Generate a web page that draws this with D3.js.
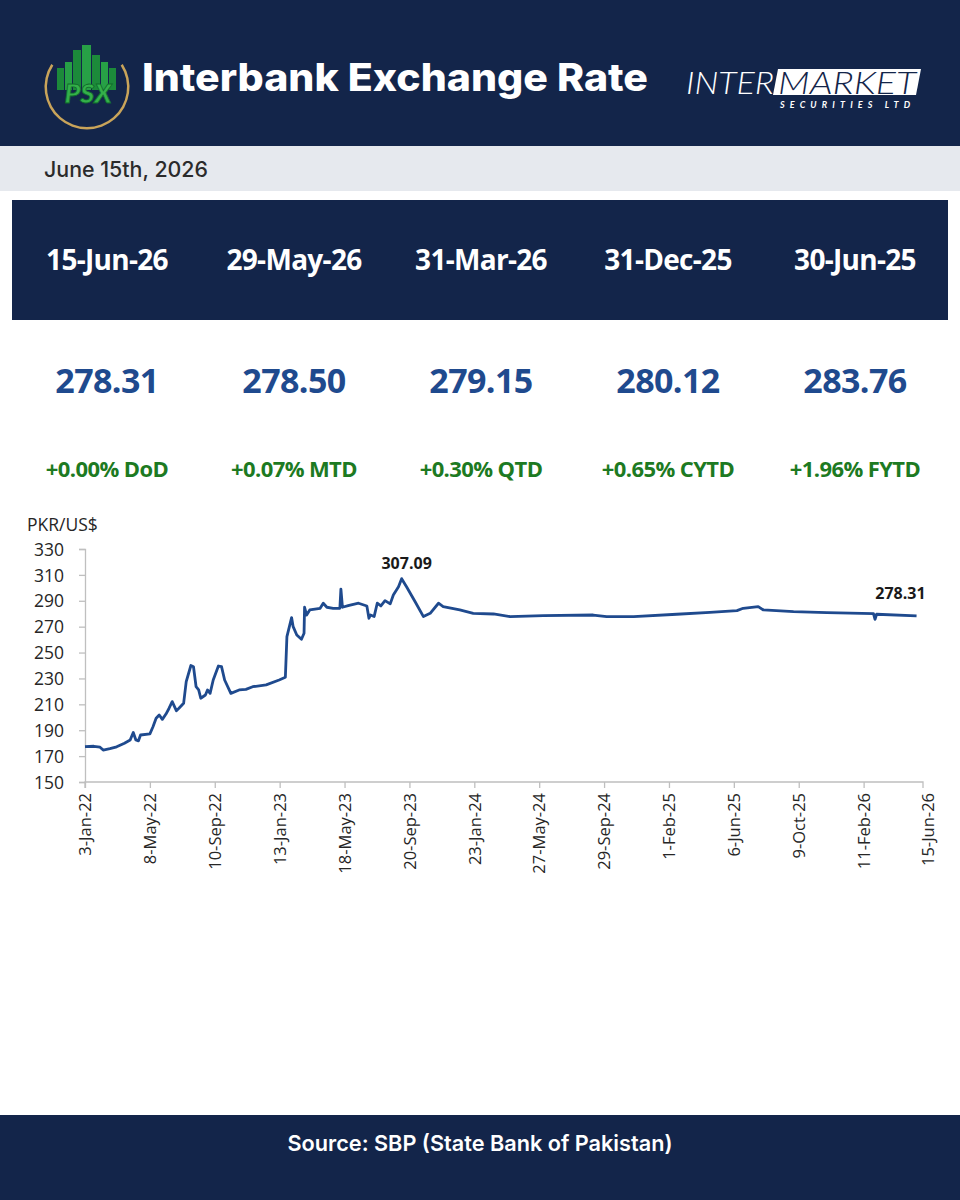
<!DOCTYPE html>
<html>
<head>
<meta charset="utf-8">
<script src="https://cdn.jsdelivr.net/npm/d3@7"></script>
<style>
  body { margin: 0; background: #fff; }
  svg { display: block; }
</style>
</head>
<body>
<svg id="chart"></svg>
<script>
// snapshot cards
const cardDates = ['15-Jun-26', '29-May-26', '31-Mar-26', '31-Dec-25', '30-Jun-25'];
const cardRates = ['278.31', '278.50', '279.15', '280.12', '283.76'];
const cardChanges = ['+0.00% DoD', '+0.07% MTD', '+0.30% QTD', '+0.65% CYTD', '+1.96% FYTD'];

// PKR/US$ series
const rateDates = [
  '2022-01-03', '2022-01-20', '2022-02-01', '2022-02-07', '2022-02-20', '2022-03-05', '2022-03-20', '2022-03-31',
  '2022-04-06', '2022-04-11', '2022-04-16', '2022-04-20', '2022-05-08', '2022-05-14', '2022-05-20', '2022-05-26',
  '2022-06-01', '2022-06-08', '2022-06-14', '2022-06-20', '2022-06-28', '2022-07-03', '2022-07-12', '2022-07-17',
  '2022-07-26', '2022-07-31', '2022-08-05', '2022-08-10', '2022-08-14', '2022-08-23', '2022-08-27', '2022-09-01',
  '2022-09-07', '2022-09-17', '2022-09-23', '2022-09-29', '2022-10-11', '2022-10-27', '2022-11-09', '2022-11-22',
  '2022-12-18', '2023-01-12', '2023-01-24', '2023-01-27', '2023-02-05', '2023-02-08', '2023-02-15', '2023-02-24',
  '2023-03-01', '2023-03-02', '2023-03-06', '2023-03-12', '2023-04-01', '2023-04-07', '2023-04-14', '2023-04-26',
  '2023-05-09', '2023-05-11', '2023-05-14', '2023-05-25', '2023-06-14', '2023-06-30', '2023-07-04', '2023-07-07',
  '2023-07-14', '2023-07-20', '2023-07-27', '2023-08-04', '2023-08-14', '2023-08-20', '2023-08-30', '2023-09-05',
  '2023-09-15', '2023-10-01', '2023-10-17', '2023-10-30', '2023-11-15', '2023-11-24', '2023-12-26', '2024-01-21',
  '2024-02-29', '2024-04-01', '2024-06-04', '2024-09-08', '2024-10-04', '2024-11-25', '2025-02-16', '2025-04-21',
  '2025-06-12', '2025-06-24', '2025-07-23', '2025-08-02', '2025-09-29', '2025-12-02', '2026-03-02', '2026-03-05',
  '2026-03-08', '2026-05-24'
];
const rateValues = [
  177.3, 177.6, 176.9, 174.7, 175.8, 177.2, 180.0, 182.4,
  188.3, 182.5, 181.8, 186.3, 187.2, 192.7, 199.2, 201.8,
  198.4, 202.5, 207.0, 212.1, 205.1, 207.0, 210.8, 227.5,
  240.0, 239.1, 223.6, 221.1, 214.7, 217.2, 221.1, 218.5,
  228.8, 239.6, 239.1, 228.8, 218.5, 221.1, 221.6, 223.6,
  225.0, 228.8, 230.9, 262.3, 277.0, 270.0, 263.6, 260.3,
  264.9, 285.0, 279.0, 282.9, 284.2, 288.1, 285.0, 284.2,
  284.2, 299.0, 285.0, 286.2, 288.1, 286.0, 276.5, 279.0,
  277.8, 288.1, 286.0, 290.1, 287.6, 294.5, 300.9, 307.09,
  300.4, 289.3, 277.8, 280.3, 288.1, 285.5, 282.9, 280.3,
  279.8, 277.8, 278.5, 279.0, 277.8, 277.8, 279.6, 281.1,
  282.4, 284.2, 285.5, 282.9, 281.6, 280.8, 280.1, 275.7,
  279.6, 278.31
];

const xTickDates = ['2022-01-03', '2022-05-08', '2022-09-10', '2023-01-13', '2023-05-18', '2023-09-20',
  '2024-01-23', '2024-05-27', '2024-09-29', '2025-02-01', '2025-06-06', '2025-10-09', '2026-02-11', '2026-06-15'];
const yTicks = [150, 170, 190, 210, 230, 250, 270, 290, 310, 330];

const NAVY = '#13254a';
const parse = d3.timeParse('%Y-%m-%d');
const fmtTick = d => `${d.getDate()}-${d3.timeFormat('%b-%y')(d)}`;

const W = 960, H = 1200;
const svg = d3.select('#chart').attr('width', W).attr('height', H);

// ---- header ----
svg.append('rect').attr('x', 0).attr('y', 0).attr('width', W).attr('height', 146).attr('fill', NAVY);

// PSX mark
const logo = svg.append('g').attr('transform', 'translate(87,87)');
logo.append('path')
  .attr('d', d3.arc()({ innerRadius: 40, outerRadius: 42.5, startAngle: 1.0, endAngle: 2 * Math.PI - 1.0 }))
  .attr('fill', '#c9a45a');
const bars = [[-30, -19, 7], [-22, -25, 7], [-14, -37, 8], [-5, -42, 9], [5, -32, 8], [14, -25, 7], [22, -19, 7]];
bars.forEach(([bx, top, w], i) => {
  logo.append('rect').attr('x', bx).attr('y', top).attr('width', w).attr('height', 3 - top)
    .attr('fill', i % 2 ? '#27a046' : '#1c8a3a');
});
logo.append('text').attr('x', 1).attr('y', 16).attr('text-anchor', 'middle')
  .attr('font-family', 'Lato, sans-serif').attr('font-weight', 900).attr('font-style', 'italic')
  .attr('font-size', 27).attr('fill', '#34b04a').attr('stroke', '#0f6b2a').attr('stroke-width', 0.8)
  .text('PSX');

svg.append('text').attr('x', 142).attr('y', 91)
  .attr('font-family', 'Inter, sans-serif').attr('font-weight', 800).attr('font-size', 38)
  .attr('textLength', 506).attr('lengthAdjust', 'spacingAndGlyphs')
  .attr('fill', '#fff').text('Interbank Exchange Rate');

// Intermarket mark
const im = svg.append('g');
im.append('path').attr('d', 'M778,69 L921,69 L916,95 L773,95 Z').attr('fill', '#fff');
im.append('text').attr('x', 686).attr('y', 94)
  .attr('font-family', 'Lato, sans-serif').attr('font-weight', 300).attr('font-style', 'italic')
  .attr('font-size', 32).attr('textLength', 88).attr('lengthAdjust', 'spacingAndGlyphs')
  .attr('fill', '#fff').text('INTER');
im.append('text').attr('x', 778).attr('y', 94)
  .attr('font-family', 'Lato, sans-serif').attr('font-weight', 300).attr('font-style', 'italic')
  .attr('font-size', 32).attr('textLength', 138).attr('lengthAdjust', 'spacingAndGlyphs')
  .attr('fill', NAVY).text('MARKET');
im.append('text').attr('x', 780).attr('y', 108)
  .attr('font-family', 'Lato, sans-serif').attr('font-weight', 700).attr('font-style', 'italic')
  .attr('font-size', 9).attr('textLength', 130).attr('lengthAdjust', 'spacing')
  .attr('fill', '#fff').text('SECURITIES LTD');

// date band
svg.append('rect').attr('x', 0).attr('y', 146).attr('width', W).attr('height', 45).attr('fill', '#e6e9ee');
svg.append('text').attr('x', 44).attr('y', 177)
  .attr('font-family', 'Inter, sans-serif').attr('font-weight', 500).attr('font-size', 21)
  .attr('textLength', 164).attr('lengthAdjust', 'spacingAndGlyphs')
  .attr('fill', '#2b2b2b').text('June 15th, 2026');

// ---- snapshot cards ----
svg.append('rect').attr('x', 12).attr('y', 200).attr('width', 936).attr('height', 120).attr('fill', NAVY);
const colX = d3.scalePoint().domain(d3.range(cardDates.length)).range([107, 855]);
const cardFont = '"Open Sans", "Noto Sans", sans-serif';

svg.append('g').selectAll('text').data(cardDates).join('text')
  .attr('x', (d, i) => colX(i)).attr('y', 270).attr('text-anchor', 'middle')
  .attr('font-family', cardFont).attr('font-weight', 700).attr('font-size', 28)
  .attr('letter-spacing', -0.7).attr('fill', '#fff').text(d => d);

svg.append('g').selectAll('text').data(cardRates).join('text')
  .attr('x', (d, i) => colX(i)).attr('y', 393).attr('text-anchor', 'middle')
  .attr('font-family', cardFont).attr('font-weight', 700).attr('font-size', 34)
  .attr('letter-spacing', -0.6).attr('fill', '#1f4a8e').text(d => d);

svg.append('g').selectAll('text').data(cardChanges).join('text')
  .attr('x', (d, i) => colX(i)).attr('y', 477).attr('text-anchor', 'middle')
  .attr('font-family', cardFont).attr('font-weight', 700).attr('font-size', 22)
  .attr('letter-spacing', -0.6).attr('fill', '#1d7a22').text(d => d);

// ---- line chart ----
const series = rateDates.map((d, i) => ({ date: parse(d), value: rateValues[i] }));
const ticks = xTickDates.map(parse);

const x = d3.scaleTime().domain([ticks[0], d3.timeDay.offset(ticks[0], 1625)]).range([85, 928.5]);
const y = d3.scaleLinear().domain([150, 330]).range([782, 549]);
const axisFont = '"Open Sans", "Noto Sans", sans-serif';

const yAxis = svg.append('g').attr('transform', 'translate(85,0)')
  .call(d3.axisLeft(y).tickValues(yTicks).tickSize(6).tickPadding(15));
const xAxis = svg.append('g').attr('transform', 'translate(0,782)')
  .call(d3.axisBottom(x).tickValues(ticks).tickSize(6).tickFormat(fmtTick));

[yAxis, xAxis].forEach(a => {
  a.select('.domain').attr('stroke', '#bfbfbf').attr('stroke-width', 1.3);
  a.selectAll('.tick line').attr('stroke', '#bfbfbf').attr('stroke-width', 1.3);
  a.selectAll('text').attr('fill', '#262626').attr('font-family', axisFont);
});
xAxis.select('.domain').attr('d', 'M85,6V0H923V6');
xAxis.selectAll('.tick').filter((d, i) => i === ticks.length - 1).select('line').remove();
yAxis.selectAll('text').attr('font-size', 17.5).attr('dy', '0.35em');
xAxis.selectAll('text')
  .attr('font-size', 16.5)
  .attr('transform', 'rotate(-90)')
  .attr('text-anchor', 'end')
  .attr('x', -11).attr('y', 0).attr('dy', '0.35em');

svg.append('text').attr('x', 27).attr('y', 531)
  .attr('font-family', axisFont).attr('font-size', 17.5).attr('fill', '#262626').text('PKR/US$');

const line = d3.line().x(d => x(d.date)).y(d => y(d.value)).curve(d3.curveLinear);
svg.append('path').datum(series)
  .attr('d', line)
  .attr('fill', 'none').attr('stroke', '#1f4a8e').attr('stroke-width', 2.8)
  .attr('stroke-linejoin', 'round');

// callouts
const peak = series[d3.maxIndex(series, d => d.value)];
const last = series[series.length - 1];
svg.append('text').attr('x', x(peak.date) + 5).attr('y', y(peak.value) - 10).attr('text-anchor', 'middle')
  .attr('font-family', axisFont).attr('font-weight', 700).attr('font-size', 16)
  .attr('fill', '#1a1a1a').text(peak.value.toFixed(2));
svg.append('text').attr('x', x(last.date) + 9).attr('y', y(last.value) - 17).attr('text-anchor', 'end')
  .attr('font-family', axisFont).attr('font-weight', 700).attr('font-size', 16)
  .attr('fill', '#1a1a1a').text(last.value.toFixed(2));

// ---- footer ----
svg.append('rect').attr('x', 0).attr('y', 1115).attr('width', W).attr('height', 85).attr('fill', NAVY);
svg.append('text').attr('x', 480).attr('y', 1151).attr('text-anchor', 'middle')
  .attr('font-family', 'Inter, sans-serif').attr('font-weight', 600).attr('font-size', 22)
  .attr('textLength', 385).attr('lengthAdjust', 'spacingAndGlyphs')
  .attr('fill', '#fff').text('Source: SBP (State Bank of Pakistan)');
</script>
</body>
</html>
